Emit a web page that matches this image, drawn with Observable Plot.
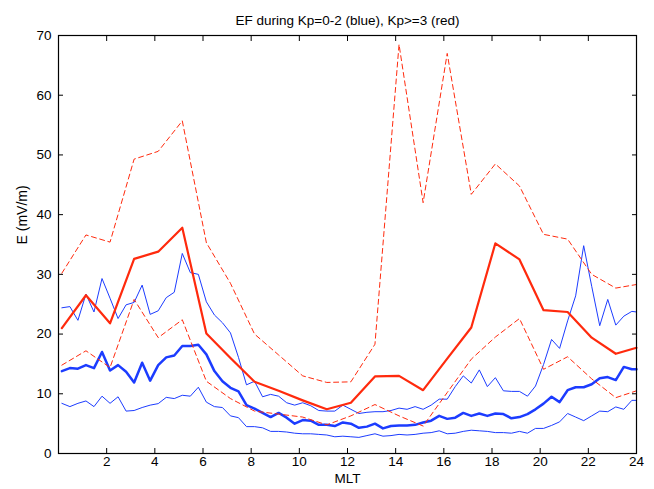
<!DOCTYPE html>
<html><head><meta charset="utf-8">
<script src="https://cdn.jsdelivr.net/npm/d3@7"></script>
<script src="https://cdn.jsdelivr.net/npm/@observablehq/plot@0.6"></script>
<style>body{margin:0;background:#fff} svg{display:block}</style>
</head><body><div id="chart"></div>
<script>
// MLT bin centres: blue 20-minute bins, red 1-hour bins (last point clipped at 24)
const blueMLT = d3.range(72).map(i => 0.14 + i / 3).concat([24]);
const redMLT = d3.range(24).map(i => 0.14 + i).concat([24]);

// Kp = 0-2 (blue)
const blueUpper = [24.4,24.6,22.3,26.7,23.7,29.3,26.0,22.6,24.9,25.3,28.2,23.3,
  23.9,26.1,27.0,33.5,30.3,30.0,25.4,23.2,21.9,20.2,16.1,11.5,
  12.1,9.5,9.9,9.6,8.5,8.1,8.5,8.0,7.2,7.1,7.1,8.1,
  7.4,6.7,6.9,7.0,7.0,7.2,7.6,7.4,7.85,7.4,8.1,9.1,
  9.1,11.2,13.0,11.8,14.0,11.2,12.7,10.5,10.4,10.4,9.6,11.3,
  14.9,19.1,17.6,22.2,26.4,34.8,28.0,21.4,25.8,21.5,23.0,23.8,23.7];
const blueMedian = [13.8,14.3,14.2,14.8,14.3,17.0,13.9,14.8,13.7,11.9,15.2,12.2,
  14.8,16.1,16.4,18.0,18.0,18.2,16.6,13.8,12.1,11.0,10.4,8.1,
  7.5,6.8,6.1,6.8,6.0,5.0,5.6,5.5,4.8,4.8,4.6,5.2,
  5.0,4.3,4.5,5.0,4.2,4.6,4.7,4.7,4.8,5.2,5.5,6.3,
  5.8,6.0,6.8,6.3,6.7,6.3,6.7,6.6,5.9,6.1,6.6,7.4,
  8.35,9.5,8.6,10.6,11.1,11.1,11.6,12.6,12.8,12.3,14.5,14.1,14.1];
const blueLower = [8.4,7.85,8.4,8.8,7.85,9.6,8.4,9.5,7.1,7.2,7.7,8.1,
  8.35,9.4,9.2,9.75,9.6,11.1,8.6,7.85,7.7,6.3,6.0,4.5,
  4.5,4.3,3.7,3.7,3.6,3.4,3.3,3.3,3.2,3.1,2.8,2.9,
  2.8,2.7,3.0,3.3,2.9,3.0,3.2,3.1,3.2,3.4,3.5,3.8,
  3.3,3.4,3.7,3.9,3.8,3.7,3.5,3.5,3.4,3.7,3.4,4.2,
  4.2,4.7,5.3,6.7,6.1,5.5,6.3,7.1,7.0,7.8,7.4,8.9,8.9];

// Kp >= 3 (red)
const redUpper = [30.2,36.6,35.4,49.3,50.6,55.7,35.3,28.5,20.0,16.5,13.0,11.9,
  12.0,18.3,68.5,42.0,67.0,43.4,48.5,44.8,36.7,35.9,30.0,27.7,28.3];
const redMedian = [21.0,26.5,21.8,32.6,33.8,37.8,20.1,16.0,12.0,10.5,8.9,7.4,
  8.5,12.9,13.0,10.6,15.9,21.1,35.2,32.5,24.0,23.7,19.4,16.7,17.7];
const redLower = [14.8,17.2,14.4,25.8,19.4,22.4,12.1,9.2,7.1,6.6,6.1,4.8,
  6.3,8.2,6.3,4.6,10.2,15.8,19.5,22.6,14.1,16.2,12.5,9.35,10.5];

const xTicks = [2,4,6,8,10,12,14,16,18,20,22,24];
const yTicks = [0,10,20,30,40,50,60,70];
const titleText = "EF during Kp=0-2 (blue), Kp>=3 (red)";
const xLabel = "MLT";
const yLabel = "E (mV/m)";

const BLUE = "#1c3cff";
const RED = "#ff2a0d";
const rows = (xs, ys) => xs.map((x, i) => ({x, y: ys[i]}));

const chart = Plot.plot({
  width: 654, height: 489,
  marginLeft: 58, marginRight: 18, marginTop: 35, marginBottom: 36,
  style: {fontFamily: "'Liberation Sans', Arial, Helvetica, sans-serif", fontSize: "14px", background: "#fff", color: "#000"},
  x: {domain: [0, 24]},
  y: {domain: [0, 70]},
  marks: [
    Plot.line(rows(blueMLT, blueLower), {x: "x", y: "y", stroke: BLUE, strokeWidth: 1}),
    Plot.line(rows(blueMLT, blueUpper), {x: "x", y: "y", stroke: BLUE, strokeWidth: 1}),
    Plot.line(rows(blueMLT, blueMedian), {x: "x", y: "y", stroke: BLUE, strokeWidth: 2.5}),
    Plot.line(rows(redMLT, redLower), {x: "x", y: "y", stroke: RED, strokeWidth: 1, strokeDasharray: "5,3.5"}),
    Plot.line(rows(redMLT, redUpper), {x: "x", y: "y", stroke: RED, strokeWidth: 1, strokeDasharray: "5,3.5"}),
    Plot.line(rows(redMLT, redMedian), {x: "x", y: "y", stroke: RED, strokeWidth: 2.2}),
    Plot.frame({stroke: "#000", strokeWidth: 1.2}),
    Plot.axisX({anchor: "bottom", ticks: xTicks, tickSize: -5, tickFormat: () => "", label: null}),
    Plot.axisX({anchor: "top", ticks: xTicks, tickSize: -5, tickFormat: () => "", label: null}),
    Plot.axisX({anchor: "bottom", ticks: xTicks, tickSize: 0, tickPadding: 3, label: null, fill: "#000", fontSize: 13.5}),
    Plot.axisY({anchor: "left", ticks: yTicks, tickSize: -5, tickFormat: () => "", label: null}),
    Plot.axisY({anchor: "right", ticks: yTicks, tickSize: -5, tickFormat: () => "", label: null}),
    Plot.axisY({anchor: "left", ticks: yTicks, tickSize: 0, tickPadding: 7, label: null, fill: "#000", fontSize: 13.5}),
    Plot.text([titleText], {frameAnchor: "top", dy: -20, fontSize: 13.5, fill: "#000"}),
    Plot.text([xLabel], {frameAnchor: "bottom", dy: 29, fontSize: 13.5, fill: "#000"}),
    Plot.text([yLabel], {frameAnchor: "left", dx: -36, rotate: -90, fontSize: 14, fill: "#000"})
  ]
});
document.getElementById("chart").appendChild(chart);
</script>
</body></html>
